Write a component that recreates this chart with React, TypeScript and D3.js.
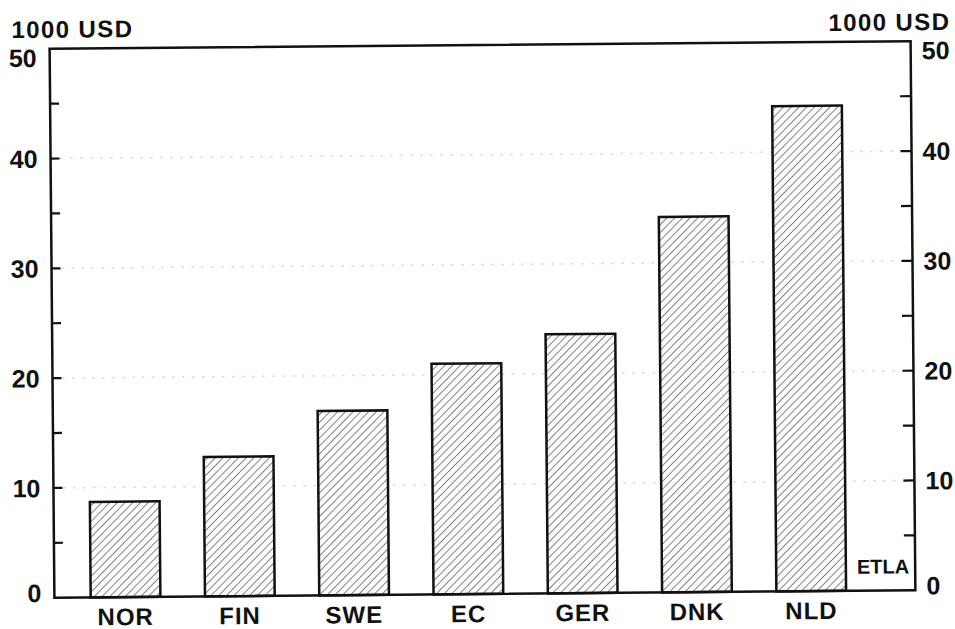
import * as d3 from "d3";

const categories = ["NOR", "FIN", "SWE", "EC", "GER", "DNK", "NLD"];
const values = [8.7, 12.7, 16.8, 21.0, 23.6, 34.2, 44.2];
const tickLabels = [0, 10, 20, 30, 40, 50];
const minorTicks = [5, 10, 15, 20, 25, 30, 35, 40, 45];
const gridValues = [10, 20, 30, 40];

const W = 955;
const H = 629;
const L = 52;
const R = 913;
const T = 45;
const B = 594;
const FONT = "'Liberation Sans', Arial, Helvetica, sans-serif";

export default function App() {
  const y = d3.scaleLinear().domain([0, 50]).range([B, T]);
  const x = d3
    .scaleBand<string>()
    .domain(categories)
    .range([66, 866])
    .paddingInner(0.39)
    .paddingOuter(0.195);

  return (
    <svg
      width={W}
      height={H}
      style={{ position: "absolute", left: 0, top: 0, background: "#fff" }}
    >
      <defs>
        <pattern
          id="hatch"
          patternUnits="userSpaceOnUse"
          width={5.5}
          height={5.5}
          patternTransform="rotate(45)"
        >
          <rect width={5.5} height={5.5} fill="#fbfbfb" />
          <line x1={0} y1={0} x2={0} y2={5.5} stroke="#4a4a4a" strokeWidth={1.3} />
        </pattern>
      </defs>
      <g transform="rotate(-0.5 482 320)" fontFamily={FONT} fontWeight="bold" fill="#111">
        {/* dotted gridlines */}
        {gridValues.map((v) => (
          <line
            key={"g" + v}
            x1={L}
            x2={R}
            y1={y(v)}
            y2={y(v)}
            stroke="#d2d2d2"
            strokeWidth={1.5}
            strokeDasharray="2 8"
          />
        ))}

        {/* bars */}
        {categories.map((c, i) => (
          <rect
            key={c}
            x={x(c)}
            y={y(values[i])}
            width={x.bandwidth()}
            height={B - y(values[i])}
            fill="url(#hatch)"
            stroke="#111"
            strokeWidth={2.5}
          />
        ))}

        {/* frame */}
        <rect x={L} y={T} width={R - L} height={B - T} fill="none" stroke="#111" strokeWidth={2.5} />

        {/* ticks */}
        {minorTicks.map((v) => (
          <g key={"t" + v}>
            <line x1={L} x2={L + 9} y1={y(v)} y2={y(v)} stroke="#111" strokeWidth={2.2} />
            <line x1={R - 11} x2={R} y1={y(v)} y2={y(v)} stroke="#111" strokeWidth={2.2} />
          </g>
        ))}

        {/* tick labels */}
        {tickLabels.map((v) => {
          const dy = v === 50 ? 9 : v === 0 ? -5 : 0;
          return (
            <g key={"l" + v} fontSize={25}>
              <text x={L - 13} y={y(v) + dy + 9} textAnchor="end">
                {v}
              </text>
              <text x={R + 11} y={y(v) + dy + 9} textAnchor="start">
                {v}
              </text>
            </g>
          );
        })}

        {/* unit titles */}
        <text x={14} y={34} fontSize={24} letterSpacing={1.4}>
          1000 USD
        </text>
        <text x={953} y={34} fontSize={24} letterSpacing={1.4} textAnchor="end">
          1000 USD
        </text>

        {/* category labels */}
        {categories.map((c) => (
          <text
            key={"c" + c}
            x={(x(c) ?? 0) + x.bandwidth() / 2}
            y={B + 28}
            fontSize={24}
            letterSpacing={1}
            textAnchor="middle"
          >
            {c}
          </text>
        ))}

        <text x={907} y={577} fontSize={20} textAnchor="end">
          ETLA
        </text>
      </g>
    </svg>
  );
}
